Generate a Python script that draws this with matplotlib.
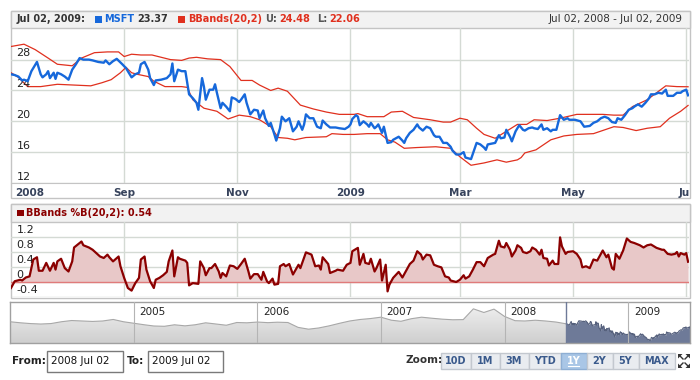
import numpy as np
import pandas as pd
import matplotlib
matplotlib.use('Agg')
import matplotlib.pyplot as plt
import matplotlib.dates as mdates
from matplotlib.patches import Rectangle, Polygon
from matplotlib.colors import LinearSegmentedColormap
from matplotlib.transforms import Bbox

plt.rcParams['font.family'] = ['DejaVu Sans']

# ---- data (days counted from Jul 02, 2008) ----
START = pd.Timestamp('2008-07-02')

msft = [(0, 26.1), (2, 26.0), (4, 25.8), (6, 25.3), (7, 25.4), (9, 25.2), (11, 26.5), (14, 27.7),
        (16, 26.1), (17, 25.7), (19, 26.1), (20, 26.5), (21, 25.6), (23, 26.3), (24, 25.5), (25, 26.3),
        (27, 26.1), (29, 25.8), (31, 25.4), (33, 26.7), (35, 27.4), (37, 28.2), (39, 28.0), (42, 28.0),
        (44, 27.9), (47, 27.7), (50, 27.6), (51, 27.9), (53, 27.4), (55, 27.8), (57, 28.1), (60, 27.4),
        (62, 26.9), (63, 26.5), (65, 25.7), (67, 26.1), (69, 26.3), (70, 27.4), (72, 27.7), (74, 26.7),
        (75, 25.6), (77, 24.7), (78, 25.3), (81, 25.4), (84, 25.6), (86, 26.1), (87, 27.5), (88, 25.2),
        (90, 26.7), (92, 26.5), (94, 26.5), (95, 25.0), (96, 23.5), (98, 23.0), (100, 22.4), (101, 21.5),
        (103, 25.6), (104, 24.5), (105, 22.8), (107, 24.1), (109, 24.1), (110, 24.8), (111, 23.7),
        (113, 21.7), (114, 22.4), (116, 21.9), (118, 21.3), (119, 23.1), (121, 22.9), (123, 22.5),
        (124, 22.8), (126, 23.5), (127, 22.4), (129, 20.9), (131, 21.5), (133, 21.4), (134, 20.4),
        (136, 21.4), (137, 20.4), (139, 19.4), (140, 19.8), (142, 18.3), (143, 17.5), (145, 19.1),
        (146, 20.6), (148, 20.0), (150, 20.4), (152, 18.7), (154, 19.3), (155, 20.0), (157, 18.9),
        (158, 19.6), (159, 20.9), (161, 20.4), (163, 20.4), (165, 19.3), (167, 19.1), (168, 20.1),
        (170, 19.6), (172, 19.2), (175, 19.2), (177, 19.1), (180, 19.0), (182, 19.3), (183, 19.6),
        (184, 20.3), (186, 20.8), (187, 20.6), (188, 19.5), (190, 20.0), (192, 19.6), (193, 19.3),
        (194, 19.8), (196, 19.1), (197, 19.3), (198, 19.6), (200, 18.5), (201, 19.3), (203, 17.2),
        (205, 17.3), (206, 17.6), (209, 18.0), (211, 17.5), (212, 17.2), (213, 17.8), (215, 18.5),
        (217, 18.9), (219, 19.6), (220, 19.2), (222, 18.8), (224, 19.3), (226, 19.1), (228, 18.2),
        (229, 18.0), (231, 18.0), (233, 17.2), (235, 17.2), (237, 16.7), (238, 16.2), (240, 15.7),
        (242, 15.7), (244, 16.0), (245, 15.3), (248, 15.1), (250, 16.5), (251, 17.2), (253, 17.0),
        (255, 16.6), (256, 16.3), (257, 17.0), (259, 17.1), (261, 17.2), (263, 18.2), (264, 17.8),
        (266, 17.9), (267, 18.9), (269, 18.0), (270, 17.4), (272, 18.7), (274, 19.5), (276, 18.9),
        (277, 18.8), (279, 19.1), (281, 19.2), (282, 19.1), (284, 19.0), (286, 19.6), (287, 18.9),
        (289, 19.1), (291, 18.7), (292, 18.9), (294, 18.9), (296, 20.8), (298, 20.2), (300, 20.4),
        (301, 20.2), (304, 20.2), (307, 20.0), (309, 19.3), (312, 19.4), (314, 19.8), (316, 20.0),
        (318, 20.4), (320, 20.6), (322, 20.4), (324, 19.9), (326, 19.8), (327, 20.4), (329, 20.2),
        (331, 20.8), (333, 21.5), (335, 21.7), (336, 21.9), (338, 22.2), (340, 21.9), (342, 22.4),
        (344, 23.0), (345, 23.5), (347, 23.5), (349, 23.7), (351, 23.6), (353, 24.1), (354, 23.3),
        (357, 23.3), (359, 23.7), (361, 23.7), (362, 23.9), (364, 24.1), (365, 23.37)]

bb_upper = [(0, 29.7), (7, 30.0), (13, 29.3), (20, 28.2), (25, 27.4), (33, 27.2), (38, 28.2), (45, 28.9),
            (52, 29.0), (58, 29.0), (61, 28.4), (65, 28.7), (70, 28.6), (76, 28.6), (81, 28.3), (86, 28.0),
            (92, 27.9), (96, 28.2), (100, 28.3), (106, 28.1), (113, 28.0), (118, 27.1), (124, 25.3),
            (130, 25.3), (134, 24.7), (140, 24.0), (144, 24.3), (149, 23.9), (156, 22.1), (163, 21.6),
            (170, 21.2), (177, 20.9), (185, 20.9), (187, 21.0), (192, 20.6), (201, 20.6), (205, 21.2),
            (211, 21.3), (217, 20.5), (226, 20.2), (233, 19.9), (237, 19.9), (242, 20.4), (246, 20.2),
            (251, 19.1), (255, 18.3), (261, 17.8), (267, 18.7), (273, 19.6), (278, 19.6), (282, 20.2),
            (289, 20.1), (296, 20.4), (305, 20.9), (319, 20.9), (325, 20.8), (330, 20.8), (335, 21.9),
            (343, 22.8), (348, 23.7), (353, 24.6), (359, 24.5), (365, 24.48)]

bb_lower = [(0, 26.3), (4, 25.7), (9, 24.5), (16, 24.5), (25, 24.8), (34, 24.7), (43, 24.6), (49, 25.0),
            (54, 25.4), (59, 26.3), (62, 27.0), (65, 26.3), (68, 26.1), (74, 25.8), (77, 25.2), (83, 24.5),
            (92, 24.5), (95, 24.4), (98, 22.8), (104, 21.7), (111, 21.3), (117, 20.3), (123, 20.8),
            (129, 20.6), (134, 20.2), (140, 19.3), (144, 17.9), (149, 17.8), (153, 17.6), (159, 17.9),
            (170, 18.0), (173, 18.4), (179, 18.3), (185, 18.3), (192, 18.4), (199, 18.4), (203, 17.6),
            (207, 17.3), (212, 16.5), (219, 16.6), (229, 16.7), (237, 16.5), (242, 15.4), (248, 14.3),
            (255, 14.6), (262, 15.0), (267, 14.7), (273, 15.0), (275, 15.3), (277, 15.9), (283, 16.3),
            (291, 17.6), (298, 18.1), (305, 18.3), (314, 18.4), (325, 19.3), (330, 19.2), (337, 18.8),
            (343, 19.1), (350, 19.3), (355, 20.4), (361, 21.3), (365, 22.06)]

pct_b = [(0, -0.16), (2, 0.02), (5, 0.06), (6, 0.04), (8, 0.12), (10, 0.15), (12, 0.60), (14, 0.66),
         (15, 0.30), (17, 0.30), (19, 0.51), (21, 0.30), (23, 0.51), (24, 0.33), (25, 0.55), (27, 0.62),
         (29, 0.37), (31, 0.28), (33, 0.55), (34, 0.92), (36, 1.00), (38, 1.08), (39, 0.98), (42, 0.92),
         (44, 0.86), (46, 0.77), (48, 0.68), (50, 0.64), (52, 0.73), (53, 0.66), (55, 0.55), (58, 0.68),
         (59, 0.42), (61, 0.11), (63, -0.16), (65, -0.23), (67, -0.03), (69, 0.11), (70, 0.60), (72, 0.68),
         (73, 0.33), (75, 0.02), (77, -0.16), (78, 0.06), (80, 0.11), (82, 0.18), (84, 0.27), (85, 0.55),
         (87, 0.84), (88, 0.15), (90, 0.66), (91, 0.62), (94, 0.57), (95, 0.51), (96, -0.09), (98, -0.03),
         (101, -0.05), (102, 0.55), (104, 0.37), (105, 0.18), (107, 0.37), (108, 0.37), (110, 0.48),
         (112, 0.28), (113, 0.11), (114, 0.24), (116, 0.15), (118, 0.44), (120, 0.42), (122, 0.35),
         (124, 0.48), (126, 0.62), (128, 0.28), (129, 0.09), (131, 0.21), (133, 0.21), (135, 0.06),
         (136, 0.27), (138, 0.02), (139, -0.03), (141, 0.09), (142, -0.07), (144, -0.05), (145, 0.42),
         (147, 0.48), (148, 0.42), (150, 0.48), (152, 0.20), (155, 0.46), (156, 0.37), (159, 0.79),
         (161, 0.75), (162, 0.73), (164, 0.42), (166, 0.44), (167, 0.33), (168, 0.66), (171, 0.48),
         (172, 0.24), (175, 0.30), (176, 0.33), (179, 0.30), (181, 0.46), (183, 0.51), (184, 0.82),
         (187, 0.91), (188, 0.46), (190, 0.75), (191, 0.51), (193, 0.48), (194, 0.62), (196, 0.28),
         (197, 0.37), (199, 0.60), (200, 0.04), (202, 0.46), (203, -0.25), (204, -0.07), (206, 0.11),
         (209, 0.27), (211, 0.12), (213, 0.30), (215, 0.48), (217, 0.57), (219, 0.82), (221, 0.73),
         (222, 0.60), (224, 0.73), (226, 0.71), (228, 0.46), (230, 0.42), (232, 0.39), (234, 0.15),
         (236, 0.12), (237, 0.04), (240, 0.00), (242, 0.06), (244, 0.18), (245, 0.09), (247, 0.15),
         (249, 0.33), (251, 0.53), (253, 0.53), (255, 0.42), (257, 0.64), (260, 0.73), (261, 0.75),
         (263, 1.10), (264, 0.95), (266, 0.92), (267, 1.04), (269, 0.86), (270, 0.68), (272, 0.84),
         (273, 0.98), (275, 0.91), (276, 0.80), (278, 0.77), (280, 0.82), (281, 0.92), (283, 0.86),
         (285, 0.73), (286, 0.86), (287, 0.64), (289, 0.62), (290, 0.44), (292, 0.57), (293, 0.48),
         (295, 0.48), (296, 1.19), (297, 0.95), (299, 0.75), (300, 0.80), (303, 0.82), (305, 0.75),
         (307, 0.60), (308, 0.39), (310, 0.42), (312, 0.37), (314, 0.60), (316, 0.57), (317, 0.66),
         (319, 0.84), (321, 0.66), (322, 0.73), (324, 0.37), (325, 0.33), (326, 0.75), (328, 0.62),
         (330, 0.84), (332, 1.16), (334, 1.07), (336, 1.04), (339, 0.98), (341, 0.92), (343, 0.98),
         (345, 1.00), (348, 0.91), (351, 0.86), (352, 0.86), (354, 0.75), (356, 0.73), (358, 0.75),
         (359, 0.80), (360, 0.68), (361, 0.77), (363, 0.73), (364, 0.77), (365, 0.54)]

# monthly closes for the navigator, Jan 2004 .. Jun 2008
hist_close = [27.5, 26.8, 26.3, 26.0, 26.3, 27.5, 28.3, 28.0, 27.7, 28.0, 29.0, 27.5,
              26.5, 25.5, 24.7, 24.5, 25.5, 24.8, 25.5, 26.8, 26.0, 25.2, 27.0, 26.8,
              27.3, 26.9, 27.2, 27.0, 23.8, 22.6, 23.4, 24.8, 26.5, 28.0, 29.0, 29.6,
              30.5, 28.5, 27.8, 29.5, 30.5, 29.8, 29.2, 28.8, 28.9, 36.0, 33.6, 35.8,
              31.0, 28.2, 28.0, 28.5, 28.0, 27.3]

month_ticks = ['2008-09-01', '2008-11-01', '2009-01-01', '2009-03-01', '2009-05-01', '2009-07-01']
month_labels = ['Sep', 'Nov', '2009', 'Mar', 'May', 'Jul']
price_ticks = [12, 16, 20, 24, 28]
pctb_ticks = [-0.4, 0, 0.4, 0.8, 1.2]
nav_years = ['2005', '2006', '2007', '2008', '2009']
zoom_buttons = ['10D', '1M', '3M', 'YTD', '1Y', '2Y', '5Y', 'MAX']


def to_dates(days):
    return START + pd.to_timedelta(list(days), unit='D')


def split(pairs):
    d, v = zip(*pairs)
    return to_dates(d), list(v)


W, H = 700, 380
fig = plt.figure(figsize=(7, 3.8), dpi=100)
fig.patch.set_facecolor('white')


def px_axes(x0, y0, x1, y1):
    a = fig.add_axes([x0 / W, 1 - y1 / H, (x1 - x0) / W, (y1 - y0) / H])
    a.set_facecolor('none')
    return a


# background layer in pixel units
bg = px_axes(0, 0, W, H)
bg.set_xlim(0, W)
bg.set_ylim(H, 0)
bg.axis('off')
bg.set_zorder(-5)

BORDER = '#c4c4c4'
GRID = '#d4dad4'

# panel frames
bg.add_patch(Rectangle((10.5, 10.5), 679, 187.5, fc='white', ec=BORDER, lw=1))
bg.add_patch(Rectangle((10.5, 10.5), 679, 17.5, fc='#f2f2f2', ec=BORDER, lw=1))
bg.add_patch(Rectangle((10.5, 203.5), 679, 94, fc='white', ec=BORDER, lw=1))
bg.add_patch(Rectangle((10.5, 203.5), 679, 18.5, fc='#f2f2f2', ec=BORDER, lw=1))

renderer = fig.canvas.get_renderer()


def text_run(x, y, parts, size=7):
    for kind, s, color, gap in parts:
        if kind == 'sq':
            bg.add_patch(Rectangle((x, y - 3.5), 6.5, 6.5, fc=color, ec='none'))
            x += 6.5 + gap
        else:
            t = bg.text(x, y, s, color=color, fontsize=size, fontweight='bold', va='center', ha='left')
            x += t.get_window_extent(renderer).width + gap


BLUE = '#1668db'
RED = '#e0301e'
DARKRED = '#8b0000'

text_run(17, 19.5, [('t', 'Jul 02, 2009:', '#333333', 9),
                    ('sq', '', BLUE, 3),
                    ('t', 'MSFT', BLUE, 3),
                    ('t', '23.37', '#333333', 10),
                    ('sq', '', RED, 3),
                    ('t', 'BBands(20,2)', RED, 3),
                    ('t', 'U:', '#555555', 2),
                    ('t', '24.48', RED, 7),
                    ('t', 'L:', '#555555', 2),
                    ('t', '22.06', RED, 0)])
bg.text(683, 19.5, 'Jul 02, 2008 - Jul 02, 2009', fontsize=7.5, color='#333333', ha='right', va='center')
text_run(17, 213, [('sq', '', DARKRED, 3), ('t', 'BBands %B(20,2): 0.54', DARKRED, 0)])

x_end = START + pd.Timedelta(days=365.5)
tick_dates = pd.to_datetime(month_ticks)

# ---- main price panel ----
ax = px_axes(11, 28, 689, 183)
d, v = split(bb_upper)
ax.plot(d, v, color=RED, lw=0.9, zorder=3)
d, v = split(bb_lower)
ax.plot(d, v, color=RED, lw=0.9, zorder=3)
d, v = split(msft)
ax.plot(d, v, color=BLUE, lw=1.7, zorder=4)
ax.set_xlim(START, x_end)
ax.set_ylim(12, 32.1)
ax.set_yticks(price_ticks)
ax.set_xticks(tick_dates)
ax.grid(True, color=GRID, lw=1)
ax.tick_params(length=0, labelleft=False, labelbottom=False)
for s in ['top', 'left', 'right']:
    ax.spines[s].set_visible(False)
ax.spines['bottom'].set_color(BORDER)
for val in price_ticks:
    ax.annotate(str(val), xy=(0.008, val), xycoords=('axes fraction', 'data'), xytext=(0, 1),
                textcoords='offset points', va='bottom', ha='left', fontsize=8, color='#222222')

clip = Bbox([[10, H - 198], [690, H - 10]])
lab = ax.annotate('2008', xy=(START, 0), xycoords=('data', 'axes fraction'), xytext=(3, -7.5),
                  textcoords='offset points', ha='left', va='center', fontsize=7.5,
                  fontweight='bold', color='#37435c')
for dt, name in zip(tick_dates, month_labels):
    t = ax.annotate(name, xy=(dt, 0), xycoords=('data', 'axes fraction'), xytext=(0, -7.5),
                    textcoords='offset points', ha='center', va='center', fontsize=7.5,
                    fontweight='bold', color='#37435c', annotation_clip=False)
    t.set_clip_box(clip)
    t.set_clip_on(True)

# ---- %B panel ----
bx = px_axes(11, 222, 689, 297)
d, v = split(pct_b)
bx.fill_between(d, v, 0, color='#e8c8c8', lw=0, zorder=2)
bx.plot(d, v, color=DARKRED, lw=1.6, zorder=4)
bx.axhline(0, color='#e07a7a', lw=1, zorder=3)
bx.set_xlim(START, x_end)
bx.set_ylim(-0.4, 1.6)
bx.set_yticks(pctb_ticks)
bx.set_xticks(tick_dates)
bx.grid(True, color=GRID, lw=1)
bx.tick_params(length=0, labelleft=False, labelbottom=False)
for s in bx.spines.values():
    s.set_visible(False)
for val in pctb_ticks:
    bx.annotate(f'{val:g}', xy=(0.008, val), xycoords=('axes fraction', 'data'), xytext=(0, 1.5),
                textcoords='offset points', va='bottom', ha='left', fontsize=8, color='#222222')

# ---- navigator ----
nv = px_axes(10, 302, 690, 343)
nav_lo, nav_hi = 13.5, 40.5
hist_dates = pd.date_range('2004-01-01', periods=len(hist_close), freq='MS')
sel_d, sel_v = split(msft)
old_d = list(hist_dates) + [sel_d[0]]
old_v = hist_close + [sel_v[0]]
poly = nv.fill_between(old_d, old_v, nav_lo, color='none', lw=0)
grad_cmap = LinearSegmentedColormap.from_list('nav', ['#cfcfcf', '#f2f2f2'])
x0n = mdates.date2num(pd.Timestamp('2004-01-01'))
x1n = mdates.date2num(sel_d[0])
im = nv.imshow(np.linspace(0, 1, 64).reshape(-1, 1), cmap=grad_cmap, aspect='auto', origin='lower',
               extent=[x0n, x1n, nav_lo, nav_hi], zorder=1)
im.set_clip_path(poly.get_paths()[0], transform=nv.transData)
nv.plot(old_d, old_v, color='#a8a8a8', lw=0.8, zorder=3)
nv.fill_between(sel_d, sel_v, nav_lo, color='#6e7a98', lw=0, zorder=2)
nv.plot(sel_d, sel_v, color='#56617d', lw=0.8, zorder=3)
nv.axvline(sel_d[0], color='#6e7a98', lw=1, zorder=3)
nv.set_xlim(pd.Timestamp('2004-01-01'), START + pd.Timedelta(days=365))
nv.set_ylim(nav_lo, nav_hi)
year_dates = pd.to_datetime([y + '-01-01' for y in nav_years])
for yd, name in zip(year_dates, nav_years):
    nv.axvline(yd, color='#b4b4b4', lw=0.8, zorder=4)
    nv.annotate(name, xy=(yd, 1), xycoords=('data', 'axes fraction'), xytext=(4, -7),
                textcoords='offset points', ha='left', va='center', fontsize=7.5, color='#222222')
nv.set_xticks([])
nv.set_yticks([])
for s in nv.spines.values():
    s.set_color('#a0a0a0')
    s.set_linewidth(1)

# ---- range controls ----
bg.text(12, 361, 'From:', fontsize=7.5, fontweight='bold', color='#222222', va='center')
bg.add_patch(Rectangle((46.5, 350.5), 76, 21, fc='white', ec='#7a7a7a', lw=1))
bg.text(51, 361, '2008 Jul 02', fontsize=7.5, color='#111111', va='center')
bg.text(127, 361, 'To:', fontsize=7.5, fontweight='bold', color='#222222', va='center')
bg.add_patch(Rectangle((147.5, 350.5), 75, 21, fc='white', ec='#7a7a7a', lw=1))
bg.text(152, 361, '2009 Jul 02', fontsize=7.5, color='#111111', va='center')

bg.text(405, 360, 'Zoom:', fontsize=7.5, fontweight='bold', color='#333333', va='center')
edges = [440, 470, 499, 528, 560, 586, 612, 638, 674]
for i, name in enumerate(zoom_buttons):
    xa, xb = edges[i], edges[i + 1]
    active = name == '1Y'
    bg.add_patch(Rectangle((xa + 0.5, 352.5), xb - xa, 16, fc='#a9c6e6' if active else '#e9ecf0',
                           ec='#8eaed3' if active else '#c3c8cf', lw=1))
    bg.text((xa + xb) / 2 + 0.5, 360.5, name, fontsize=7, fontweight='bold', ha='center', va='center',
            color='white' if active else '#3a5a8c')
    if active:
        bg.plot([(xa + xb) / 2 - 5, (xa + xb) / 2 + 6], [365.5, 365.5], color='white', lw=0.8)

# fullscreen icon
ic = '#333333'
for cx, cy, sx, sy in [(678, 354, 1, 1), (690, 354, -1, 1), (678, 368, 1, -1), (690, 368, -1, -1)]:
    bg.add_patch(Polygon([(cx, cy), (cx + 4.5 * sx, cy), (cx, cy + 4.5 * sy)], closed=True, fc=ic, ec='none'))
    bg.plot([cx + 1 * sx, cx + 5 * sx], [cy + 1 * sy, cy + 5 * sy], color=ic, lw=1)

fig.savefig('out.png', dpi=100, facecolor='white')
